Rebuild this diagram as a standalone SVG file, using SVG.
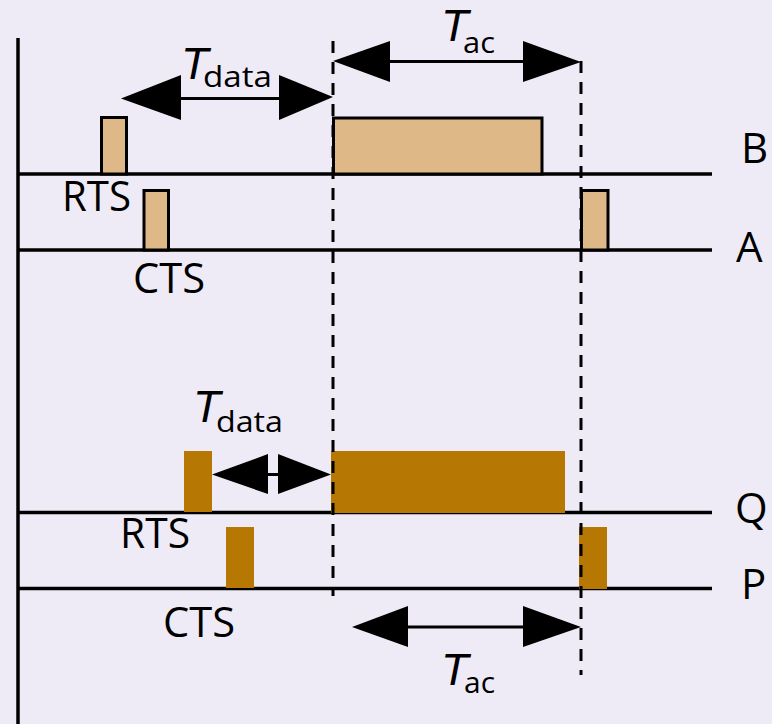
<svg xmlns="http://www.w3.org/2000/svg" width="772" height="724" viewBox="0 0 772 724">
<style>
.bg{fill:#EEEBF6}
.axis{stroke:#000;stroke-width:3.5;fill:none}
.dash{stroke:#000;stroke-width:3;stroke-dasharray:12 9;fill:none}
.p1{fill:#DEB887;stroke:#000;stroke-width:3}
.p2{fill:#B67703;stroke:none}
.arr{stroke:#000;stroke-width:3;fill:none}
.head{fill:#000}
text{font-family:"Open Sans","Liberation Sans",sans-serif;fill:#000}
.lbl{font-size:42px}
.T{font-family:"Liberation Sans",sans-serif;font-size:45px;font-style:italic}
.sub{font-family:"Open Sans","Liberation Sans",sans-serif;font-size:30px;font-style:normal}
</style>
<rect class="bg" x="0" y="0" width="772" height="724"/>
<g id="axes">
<line class="axis" x1="18" y1="38" x2="18" y2="724"/>
<line class="axis" x1="18" y1="174" x2="712" y2="174"/>
<line class="axis" x1="18" y1="250" x2="712" y2="250"/>
<line class="axis" x1="18" y1="512.5" x2="712" y2="512.5"/>
<line class="axis" x1="18" y1="588.5" x2="712" y2="588.5"/>
</g>
<g id="top-rts"><rect class="p1" x="101.5" y="117.5" width="25" height="56.5"/></g>
<g id="top-cts"><rect class="p1" x="144" y="190.5" width="24.5" height="59.5"/></g>
<g id="top-data"><rect class="p1" x="333.5" y="118" width="208.5" height="56"/></g>
<g id="top-ack"><rect class="p1" x="581.5" y="190.5" width="26.5" height="59.5"/></g>
<g id="bot-rts"><rect class="p2" x="184" y="451" width="28" height="61"/></g>
<g id="bot-cts"><rect class="p2" x="226" y="527" width="28" height="61"/></g>
<g id="bot-data"><rect class="p2" x="331" y="451" width="234" height="62"/></g>
<g id="bot-ack"><rect class="p2" x="579" y="527" width="28" height="62"/></g>
<g id="connectors">
<line class="dash" x1="333" y1="41" x2="333" y2="596"/>
<line class="dash" x1="581" y1="61" x2="581" y2="675"/>
<line class="arr" x1="181" y1="98.5" x2="279" y2="98.5"/>
<polygon class="head" points="121,98.5 181,75 181,120"/>
<polygon class="head" points="279,75 333,97 279,120"/>
<line class="arr" x1="390" y1="61.5" x2="523" y2="61.5"/>
<polygon class="head" points="333,61 390,41 390,82"/>
<polygon class="head" points="523,41 581,62 523,82"/>
<line class="arr" x1="268" y1="474.5" x2="278" y2="474.5"/>
<polygon class="head" points="212,474.5 268,454 268,494"/>
<polygon class="head" points="278,454 331,474.5 278,494"/>
<line class="arr" x1="408" y1="627" x2="523" y2="627"/>
<polygon class="head" points="352,627 408,606 408,647"/>
<polygon class="head" points="523,606 581,627 523,647"/>
</g>
<g id="labels">
<text x="181" y="79"><tspan class="T">T</tspan><tspan class="sub" x="203" y="87" textLength="69" lengthAdjust="spacingAndGlyphs">data</tspan></text>
<text x="441" y="41"><tspan class="T">T</tspan><tspan class="sub" x="463" y="53" textLength="32" lengthAdjust="spacingAndGlyphs">ac</tspan></text>
<text x="193" y="422"><tspan class="T">T</tspan><tspan class="sub" x="216" y="432" textLength="67" lengthAdjust="spacingAndGlyphs">data</tspan></text>
<text x="441" y="685"><tspan class="T">T</tspan><tspan class="sub" x="464" y="693" textLength="31" lengthAdjust="spacingAndGlyphs">ac</tspan></text>
<text class="lbl" x="62" y="211" textLength="69" lengthAdjust="spacingAndGlyphs">RTS</text>
<text class="lbl" x="133" y="293" textLength="72" lengthAdjust="spacingAndGlyphs">CTS</text>
<text class="lbl" x="120" y="548" textLength="70" lengthAdjust="spacingAndGlyphs">RTS</text>
<text class="lbl" x="163" y="637" textLength="72" lengthAdjust="spacingAndGlyphs">CTS</text>
<text class="lbl" x="741" y="163">B</text>
<text class="lbl" x="736" y="262">A</text>
<text class="lbl" x="735" y="523">Q</text>
<text class="lbl" x="741" y="599">P</text>
</g>
</svg>
